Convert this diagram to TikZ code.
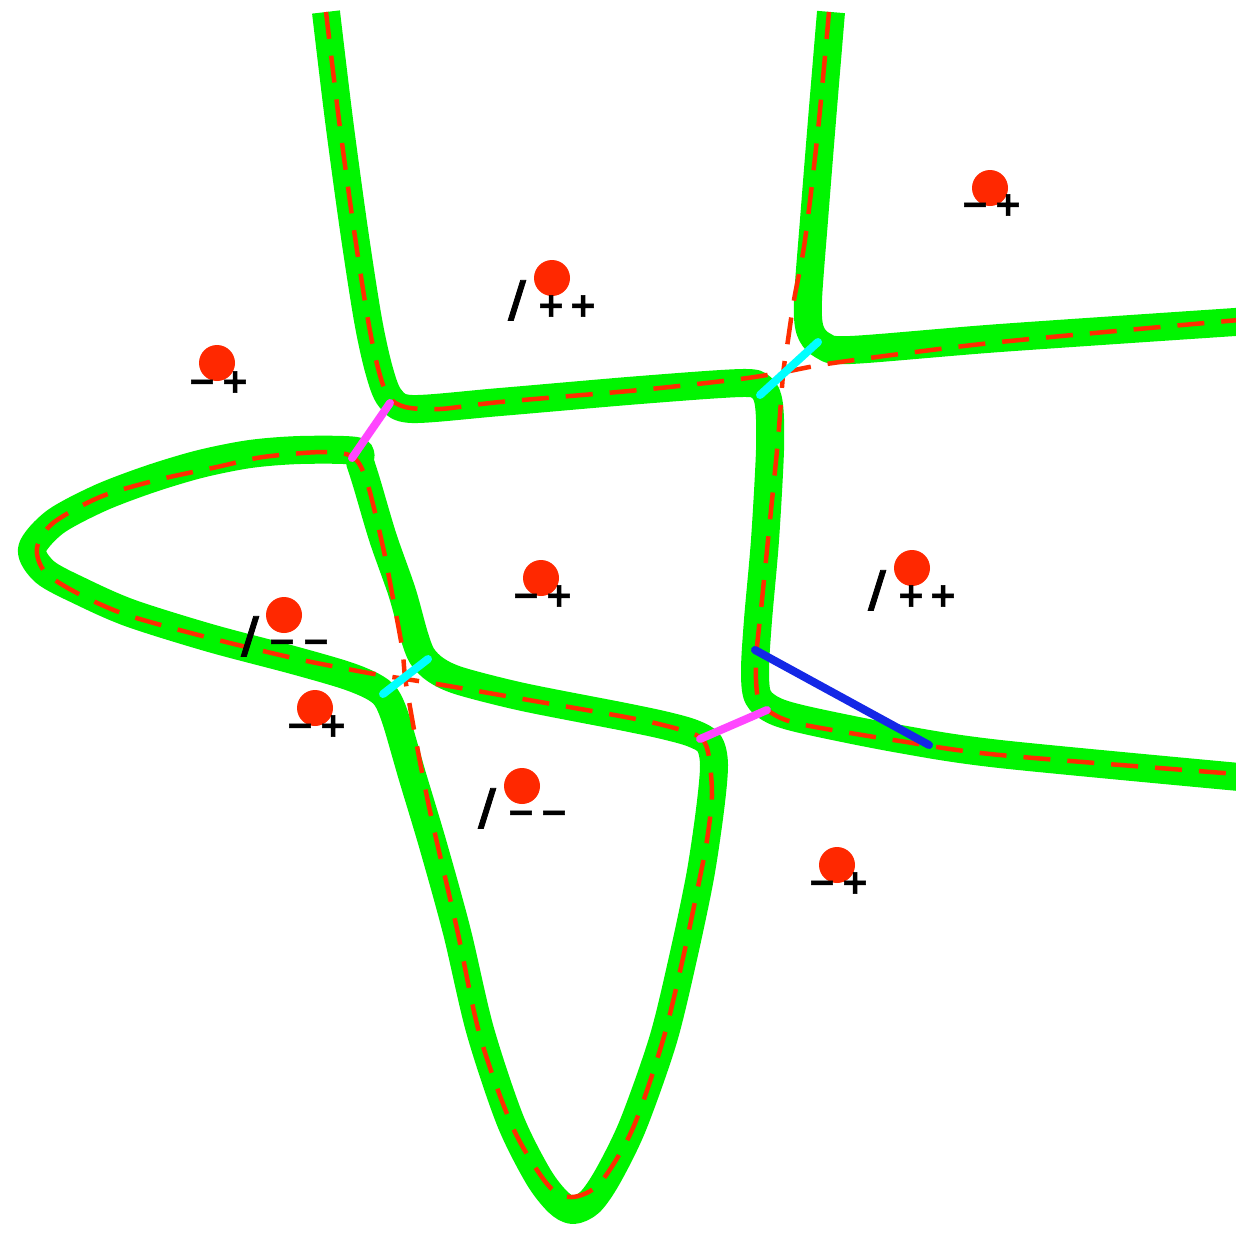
\documentclass[tikz,border=0pt]{standalone}
\usepackage{fontspec}
\newfontfamily\lblfont{DejaVu Sans}[BoldFeatures={FakeBold=1.6}]
\definecolor{gline}{RGB}{0,245,0}
\definecolor{rdash}{RGB}{255,45,0}
\definecolor{rdot}{RGB}{255,40,0}
\definecolor{magb}{RGB}{255,70,255}
\definecolor{cyb}{RGB}{0,255,255}
\definecolor{blb}{RGB}{20,40,230}
\tikzset{
  greenline/.style={draw=gline, line width=28pt, line join=round},
  reddash/.style={draw=rdash, line width=4.5pt, dash pattern=on 27pt off 17pt},
  magbridge/.style={draw=magb, line width=8pt, line cap=round},
  cybridge/.style={draw=cyb, line width=8pt, line cap=round},
  blueseg/.style={draw=blb, line width=8pt, line cap=round},
  reddot/.style={circle, fill=rdot, minimum size=36pt, inner sep=0pt},
  sgn/.style={font=\lblfont\bfseries\fontsize{34}{34}\selectfont, anchor=base, inner sep=0pt, text=black},
  slsh/.style={font=\lblfont\bfseries\fontsize{49}{49}\selectfont, anchor=base, inner sep=0pt, text=black}
}
\begin{document}
\begin{tikzpicture}[x=1pt,y=-1pt]
\useasboundingbox (0,0) rectangle (1236,1232);
\fill[white] (0,0) rectangle (1236,1232);
\clip (0,0) rectangle (1236,1232);

% green curves
\draw[greenline] plot[smooth, tension=0.5] coordinates {(326,12) (339,120) (354,230) (368,320) (379,370) (390,398) (412,409) (500,402) (640,390) (742,383) (762,388) (769,405) (770,450) (765,540) (758,620) (755,670) (758,697) (775,711) (810,721) (900,739) (1000,754) (1250,778)};
\draw[greenline] plot[smooth, tension=0.5] coordinates {(831,12) (822,120) (814,220) (808,300) (810,330) (822,345) (850,350) (1000,338) (1250,321)};
\draw[greenline] plot[smooth cycle, tension=0.5] coordinates {(356,451) (300,450) (250,454) (200,464) (150,479) (100,498) (55,522) (32,549) (45,572) (80,591) (130,613) (210,638) (293,660) (345,675) (372,686) (386,697) (396,720) (412,775) (433,845) (457,932) (480,1030) (510,1120) (538,1176) (558,1202) (573,1210) (590,1202) (608,1176) (633,1125) (663,1040) (683,958) (700,877) (710,810) (714,765) (709,743) (692,733) (663,725) (620,716) (523,697) (460,681) (436,670) (422,656) (414,635) (402,592) (383,538) (367,484) (360,462)};

% red dashed curves
\draw[reddash] plot[smooth, tension=0.5] coordinates {(326,12) (339,120) (354,230) (368,320) (378,368) (388,396) (405,407) (440,409) (500,402) (640,390) (740,379) (784,372) (840,362) (1000,342) (1250,319)};
\draw[reddash] plot[smooth, tension=0.5] coordinates {(829,12) (818,130) (805,240) (794,300) (788,340) (783,375) (778,440) (770,520) (762,600) (756,660) (758,698) (770,712) (800,724) (900,741) (1000,755) (1250,775)};
\draw[reddash] plot[smooth cycle, tension=0.5] coordinates {(353,457) (323,452) (263,457) (217,467) (157,480) (100,497) (53,523) (37,548) (45,572) (77,593) (127,615) (210,638) (293,658) (337,667) (380,675) (437,684) (523,699) (620,716) (663,725) (698,736) (708,752) (712,795) (707,840) (700,877) (683,958) (663,1040) (633,1128) (600,1183) (572,1197) (548,1185) (513,1128) (480,1036) (457,929) (433,825) (420,762) (410,707) (405,677) (402,647) (392,593) (383,547) (367,482)};

% bridge end points
\coordinate (mA1) at (352,458);
\coordinate (mA2) at (390,403);
\coordinate (cA1) at (760,395);
\coordinate (cA2) at (818,342);
\coordinate (cB1) at (383,694);
\coordinate (cB2) at (428,659);
\coordinate (mB1) at (700,739);
\coordinate (mB2) at (767,710);
\coordinate (bl1) at (755,650);
\coordinate (bl2) at (929,745);

\draw[magbridge] (mA1) -- (mA2);
\draw[magbridge] (mB1) -- (mB2);
\draw[cybridge] (cA1) -- (cA2);
\draw[cybridge] (cB1) -- (cB2);
\draw[blueseg] (bl1) -- (bl2);

% dots
\node[reddot] (d1) at (990,188) {};
\node[reddot] (d2) at (552,278) {};
\node[reddot] (d3) at (217,363) {};
\node[reddot] (d4) at (541,578) {};
\node[reddot] (d5) at (912,568) {};
\node[reddot] (d6) at (284,615) {};
\node[reddot] (d7) at (315,708) {};
\node[reddot] (d8) at (522,786) {};
\node[reddot] (d9) at (837,865) {};

% labels (baseline = centre + 10.6 for signs, + 15 for slash)
\node[sgn] (l1a) at (975,215.6) {−};
\node[sgn] (l1b) at (1008,215.6) {+};

\node[slsh] (l2s) at (517,316) {/};
\node[sgn] (l2a) at (551,316.6) {+};
\node[sgn] (l2b) at (583,316.6) {+};

\node[sgn] (l3a) at (202,392.6) {−};
\node[sgn] (l3b) at (235,392.6) {+};

\node[sgn] (l4a) at (526,606.6) {−};
\node[sgn] (l4b) at (559,606.6) {+};

\node[slsh] (l5s) at (877,606) {/};
\node[sgn] (l5a) at (911,606.6) {+};
\node[sgn] (l5b) at (943,606.6) {+};

\node[slsh] (l6s) at (250,652) {/};
\node[sgn] (l6a) at (282,652.6) {−};
\node[sgn] (l6b) at (316,652.6) {−};

\node[sgn] (l7a) at (300,736.6) {−};
\node[sgn] (l7b) at (333,736.6) {+};

\node[slsh] (l8s) at (487,824) {/};
\node[sgn] (l8a) at (521,823.6) {−};
\node[sgn] (l8b) at (554,823.6) {−};

\node[sgn] (l9a) at (822,893.6) {−};
\node[sgn] (l9b) at (855,893.6) {+};
\end{tikzpicture}
\end{document}
